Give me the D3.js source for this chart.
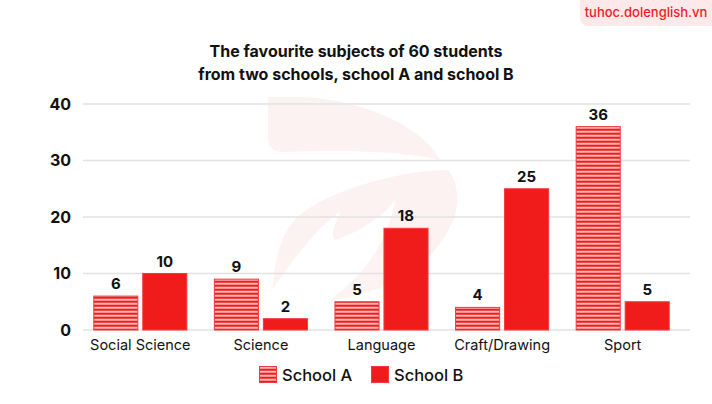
<!DOCTYPE html>
<html>
<head>
<meta charset="utf-8">
<script src="https://cdn.jsdelivr.net/npm/d3@7"></script>
<style>
  body { margin: 0; background: #fff; }
  svg { display: block; font-family: Inter, "Noto Sans", sans-serif; }
</style>
</head>
<body>
<svg id="chart"></svg>
<script>
// data
var subjects = ["Social Science", "Science", "Language", "Craft/Drawing", "Sport"];
var schoolA = [6, 9, 5, 4, 36];
var schoolB = [10, 2, 18, 25, 5];
var seriesNames = ["School A", "School B"];
var yTicks = [0, 10, 20, 30, 40];

var width = 712, height = 404;
var red = "#f01b1b";

var svg = d3.select("#chart")
    .attr("width", width)
    .attr("height", height);

// stripe pattern for school A
var defs = svg.append("defs");
var pat = defs.append("pattern")
    .attr("id", "stripes")
    .attr("patternUnits", "userSpaceOnUse")
    .attr("width", 8)
    .attr("height", 4)
    .attr("y", 0.5);
pat.append("rect").attr("width", 8).attr("height", 4).attr("fill", red);
pat.append("rect").attr("y", 2.6).attr("width", 8).attr("height", 1.4).attr("fill", "#fff");

// watermark badge top right
svg.append("rect")
    .attr("x", 580).attr("y", -10)
    .attr("width", 140).attr("height", 36)
    .attr("rx", 8)
    .attr("fill", "#fde9e9");
svg.append("text")
    .attr("x", 646).attr("y", 17)
    .attr("text-anchor", "middle")
    .attr("fill", "#ee1c25")
    .style("font-size", "13px")
    .style("font-weight", 500)
    .text("tuhoc.dolenglish.vn");

// faint logo in the background
var logo = svg.append("g").attr("fill", "#e8302f").attr("opacity", 0.06);
logo.append("path")
    .attr("d", "M268,97 L300,97 C370,100 425,130 440,160 C400,150 330,150 285,152 C272,152 268,146 268,138 Z");
logo.append("path")
    .attr("d", "M448,170 C400,170 330,190 300,215 C280,232 275,260 272,290 C300,250 320,225 340,212 C335,225 330,235 335,240 C360,232 385,215 395,200 C390,235 370,270 330,300 C390,295 440,260 455,215 C460,195 456,180 448,170 Z");

// title
var title = svg.append("text")
    .attr("text-anchor", "middle")
    .attr("fill", "#111")
    .style("font-size", "16px")
    .style("font-weight", 700);
title.append("tspan").attr("x", 356).attr("y", 57).text("The favourite subjects of 60 students");
title.append("tspan").attr("x", 356).attr("y", 80).text("from two schools, school A and school B");

// scales
var y = d3.scaleLinear().domain([0, 40]).range([330, 104]);
var x0 = d3.scaleBand().domain(subjects).range([80, 683]).paddingInner(0.22).paddingOuter(0.11);
var x1 = d3.scaleBand().domain(seriesNames).range([0, x0.bandwidth()]).paddingInner(0.08);

// grid lines
svg.append("g").selectAll("line")
    .data(yTicks)
    .join("line")
    .attr("x1", 83).attr("x2", 690)
    .attr("y1", function(d) { return y(d); })
    .attr("y2", function(d) { return y(d); })
    .attr("stroke", "#e2e2e2")
    .attr("stroke-width", 1.5);

// y axis labels
var yAxis = svg.append("g")
    .attr("transform", "translate(71,0)")
    .call(d3.axisLeft(y).tickValues(yTicks).tickSize(0).tickPadding(0));
yAxis.select(".domain").remove();
yAxis.selectAll("text")
    .attr("fill", "#111")
    .style("font-family", "Inter, sans-serif")
    .style("font-size", "16px")
    .style("font-weight", 700);

// x axis labels
var xAxis = svg.append("g")
    .attr("transform", "translate(0,336)")
    .call(d3.axisBottom(x0).tickSize(0).tickPadding(0));
xAxis.select(".domain").remove();
xAxis.selectAll("text")
    .attr("fill", "#111")
    .attr("dy", "0.95em")
    .style("font-family", "Inter, sans-serif")
    .style("font-size", "14.5px");

// bars
var rows = subjects.map(function(s, i) {
    return [
        { subject: s, series: "School A", value: schoolA[i] },
        { subject: s, series: "School B", value: schoolB[i] }
    ];
});

var groups = svg.append("g").selectAll("g")
    .data(rows)
    .join("g")
    .attr("transform", function(d) { return "translate(" + x0(d[0].subject) + ",0)"; });

groups.selectAll("rect")
    .data(function(d) { return d; })
    .join("rect")
    .attr("x", function(d) { return x1(d.series) + 0.5; })
    .attr("y", function(d) { return y(d.value); })
    .attr("width", x1.bandwidth() - 1)
    .attr("height", function(d) { return y(0) - y(d.value); })
    .attr("fill", function(d) { return d.series == "School A" ? "url(#stripes)" : red; })
    .attr("stroke", "#f2393b")
    .attr("stroke-width", 1);

groups.selectAll("text")
    .data(function(d) { return d; })
    .join("text")
    .attr("x", function(d) { return x1(d.series) + x1.bandwidth() / 2; })
    .attr("y", function(d) { return y(d.value) - 7; })
    .attr("text-anchor", "middle")
    .attr("fill", "#111")
    .style("font-size", "15px")
    .style("font-weight", 700)
    .text(function(d) { return d.value; });

// legend
var legend = svg.append("g");
var legendX = [259, 371];
seriesNames.forEach(function(name, i) {
    legend.append("rect")
        .attr("x", legendX[i] + 0.5).attr("y", 366.5)
        .attr("width", 17).attr("height", 16)
        .attr("fill", i == 0 ? "url(#stripes)" : red)
        .attr("stroke", "#f2393b");
    legend.append("text")
        .attr("x", legendX[i] + 23).attr("y", 381)
        .attr("fill", "#111")
        .style("font-size", "16.5px")
        .style("font-weight", 500)
        .text(name);
});
</script>
</body>
</html>
